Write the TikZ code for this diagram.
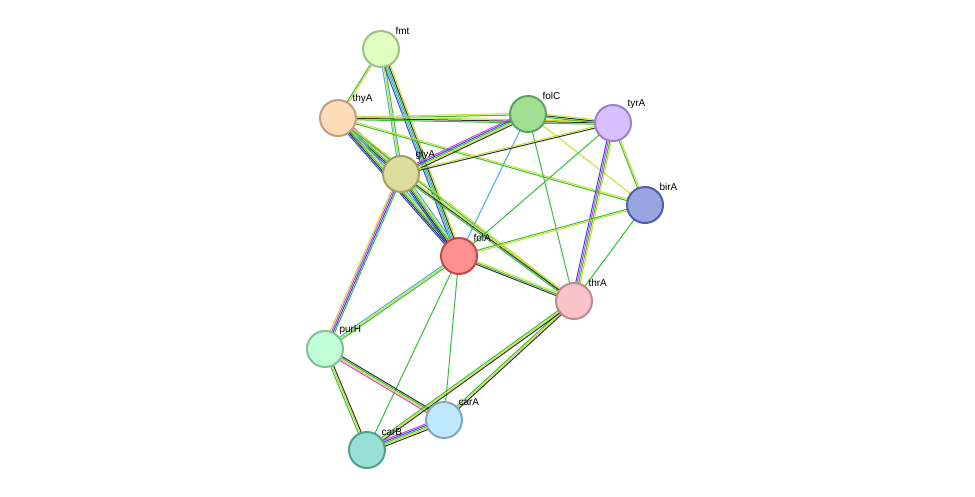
\documentclass[tikz,border=0pt]{standalone}
\usepackage{fontspec}
\setmainfont{Liberation Sans}
\usetikzlibrary{calc,backgrounds}
\definecolor{eg}{HTML}{33C033}
\definecolor{ey}{HTML}{C8DC30}
\definecolor{ek}{HTML}{303030}
\definecolor{eb}{HTML}{3344EE}
\definecolor{ec}{HTML}{40B0E0}
\definecolor{em}{HTML}{DD40DD}
\newcommand\sedge[4]{%
  \foreach \c [count=\i] in {#4}{%
    \pgfmathsetmacro\o{(\i-(#3+1)/2)*1.5}%
    \draw[\c,line width=1pt] ($(#1.center)!\o pt!90:(#2.center)$) -- ($(#2.center)!\o pt!-90:(#1.center)$);
  }}
\tikzset{prot/.style 2 args={circle,minimum size=36pt,inner sep=0pt,line width=2pt,fill=#1,draw=#2},
  lab/.style={font=\fontsize{10}{12}\selectfont,anchor=south west}}
\begin{document}
\begin{tikzpicture}[x=1pt,y=-1pt]
\useasboundingbox (0,0) rectangle (975,496);
\foreach \n/\x/\y/\f/\d in {fmt/381/49/E0FFC0/A0C080, thyA/338/118/FFDCB8/C0A080, folC/528/114/A0E090/60A060, tyrA/613/123/D8C0FF/A080C8, glyA/401/174/DCDC9C/A0A060, birA/645/205/9AA4E0/5060A8, folA/459/256/FF9090/C04848, thrA/574/301/F8C4C8/C08890, purH/325/349/C0FFD8/80C098, carA/444/420/C0E8FF/80A8C0, carB/367/450/98E0D4/50A090}{
  \definecolor{ff}{HTML}{\f}\definecolor{dd}{HTML}{\d}
  \node[prot={ff}{dd}] (\n) at (\x,\y) {};
  \node[lab] (\n-l) at (\x+11,\y-11) {\n};
}
\begin{pgfonlayer}{background}
\sedge{fmt}{thyA}{2}{eg,ey}
\sedge{fmt}{glyA}{3}{ec,ey,eg}
\sedge{fmt}{folA}{5}{eb,ec,eg,ek,ey}
\sedge{thyA}{folC}{2}{eg,ey}
\sedge{thyA}{tyrA}{3}{eg,ek,ey}
\sedge{thyA}{glyA}{5}{eb,ek,eg,ey,em}
\sedge{thyA}{folA}{5}{eb,ek,eg,ey,ec}
\sedge{thyA}{birA}{2}{eg,ey}
\sedge{thyA}{thrA}{2}{eg,ey}
\sedge{folC}{glyA}{5}{em,eb,eg,ey,ek}
\sedge{folC}{tyrA}{3}{eg,ek,ey}
\sedge{folC}{folA}{1}{ec}
\sedge{folC}{thrA}{1}{eg}
\sedge{folC}{birA}{1}{ey}
\sedge{glyA}{tyrA}{2}{ek,ey}
\sedge{glyA}{folA}{5}{eb,ek,eg,ey,ec}
\sedge{glyA}{thrA}{3}{eg,ek,ey}
\sedge{glyA}{purH}{4}{ey,em,eb,eg}
\sedge{tyrA}{folA}{1}{eg}
\sedge{tyrA}{thrA}{4}{eb,em,eg,ey}
\sedge{tyrA}{birA}{2}{eg,ey}
\sedge{birA}{folA}{2}{eg,ey}
\sedge{birA}{thrA}{1}{eg}
\sedge{folA}{thrA}{3}{ek,eg,ey}
\sedge{folA}{purH}{3}{ec,ey,eg}
\sedge{folA}{carA}{1}{eg}
\sedge{folA}{carB}{1}{eg}
\sedge{purH}{carA}{4}{em,ey,eg,ek}
\sedge{purH}{carB}{3}{eg,ey,ek}
\sedge{thrA}{carA}{3}{eg,ey,ek}
\sedge{thrA}{carB}{3}{eg,ey,ek}
\sedge{carA}{carB}{5}{em,eb,eg,ey,ek}
\end{pgfonlayer}
\end{tikzpicture}
\end{document}
